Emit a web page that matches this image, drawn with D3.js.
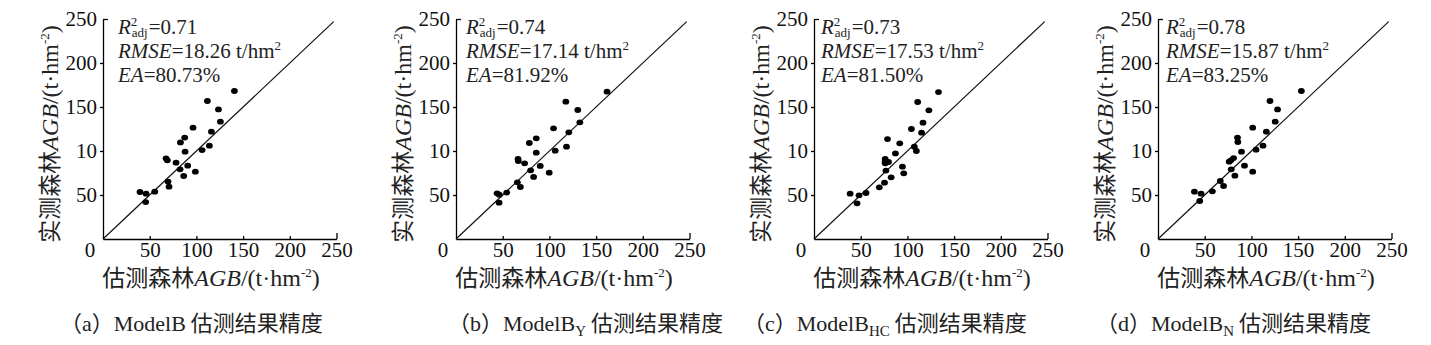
<!DOCTYPE html>
<html>
<head>
<meta charset="utf-8">
<script src="https://cdn.jsdelivr.net/npm/d3@7"></script>
<style>
  body { margin: 0; background: #fff; }
  svg { display: block; }
  .serif { font-family: "Liberation Serif", "DejaVu Serif", serif; }
  .cjk { font-family: "Noto Sans CJK SC", sans-serif; }
</style>
</head>
<body>
<div id="chart"></div>
<script>
// ---- data ----
const panelLetters = ["a", "b", "c", "d"];
const modelSubs = ["", "Y", "HC", "N"];
const r2Values = ["0.71", "0.74", "0.73", "0.78"];
const rmseValues = ["18.26", "17.14", "17.53", "15.87"];
const eaValues = ["80.73%", "81.92%", "81.50%", "83.25%"];

const xTicks = [50, 100, 150, 200, 250];
const yTicks = [50, 100, 150, 200, 250];
const yTickLabels = ["50", "10", "150", "200", "250"];   // the "10" is as printed
const lineRange = [0, 247];

// estimated (x) / observed (y) AGB for each model
const estA = [140.7, 111.8, 123.6, 125.7, 96.4, 116.1, 113.9, 87.5, 82.9, 87.9, 106.1, 67.5, 68.9, 78.2, 82.5, 90.7, 86.4, 98.9, 69.6, 70.7, 39.6, 46.1, 55.4, 45.7];
const obsA = [168.2, 156.8, 147.3, 133.3, 126.5, 122.0, 106.0, 115.2, 109.8, 99.2, 101.1, 91.7, 89.4, 86.7, 79.2, 83.3, 71.6, 76.5, 65.2, 59.5, 53.4, 51.5, 53.8, 42.0];

const estB = [161.7, 117.6, 130.4, 132.6, 104.4, 120.8, 118.3, 85.9, 78.5, 85.9, 106.2, 66.4, 66.7, 73.5, 79.9, 90.2, 83.1, 99.8, 65.7, 68.9, 44.0, 46.4, 54.3, 46.1];
const obsB = [167.4, 156.1, 146.6, 132.6, 125.8, 121.2, 104.9, 114.4, 109.1, 98.1, 100.4, 90.9, 88.6, 86.0, 78.0, 83.0, 70.5, 75.4, 64.4, 59.1, 51.9, 50.4, 52.7, 41.3];

const estC = [133.3, 111.0, 123.0, 116.7, 104.3, 115.2, 107.4, 109.6, 78.7, 91.8, 87.2, 76.2, 76.2, 79.8, 76.2, 77.0, 94.7, 96.1, 82.6, 75.5, 69.9, 38.7, 48.2, 55.7, 46.1];
const obsC = [167.0, 155.7, 146.2, 132.2, 125.0, 120.8, 104.9, 100.0, 113.6, 108.7, 97.3, 90.9, 88.3, 87.5, 86.0, 77.7, 82.2, 74.6, 70.1, 64.0, 58.7, 51.5, 49.6, 52.3, 40.5];

const estD = [153.5, 119.9, 128.0, 125.5, 101.4, 116.0, 112.4, 105.0, 85.1, 85.5, 89.4, 76.2, 78.0, 80.9, 78.4, 92.6, 82.3, 101.4, 66.7, 70.2, 39.0, 46.1, 58.2, 44.7];
const obsD = [168.2, 156.8, 147.3, 133.3, 126.5, 122.0, 106.0, 101.5, 115.2, 110.2, 99.2, 87.9, 89.4, 92.0, 79.2, 83.3, 72.0, 76.5, 65.9, 60.2, 53.8, 51.5, 54.2, 43.2];

const estAll = [estA, estB, estC, estD];
const obsAll = [obsA, obsB, obsC, obsD];

// ---- layout ----
const width = 1431, height = 345;
const axisX = [103, 456, 814, 1158];
const captionX = [60, 448, 743, 1096];
const annoDx = [15, 10, 7, 8];

const svg = d3.select("#chart").append("svg")
    .attr("width", width)
    .attr("height", height);

const x = d3.scaleLinear().domain([0, 250]).range([0, 233.5]);
const y = d3.scaleLinear().domain([0, 250]).range([239, 19]);

// width of an italic "R" at the annotation size, used to stack the 2 / adj
const probe = svg.append("text").attr("class", "serif").attr("font-size", 21)
    .attr("font-style", "italic").text("R");
const rWidth = probe.node().getComputedTextLength();
probe.remove();
const probe2 = svg.append("text").attr("class", "serif").attr("font-size", 13).text("adj");
const adjWidth = probe2.node().getComputedTextLength();
probe2.remove();

panelLetters.forEach((letter, i) => {
    const g = svg.append("g").attr("transform", "translate(" + axisX[i] + ",0)");

    // y axis
    const yAxis = g.append("g")
        .call(d3.axisLeft(y)
            .tickValues(yTicks)
            .tickSize(3)
            .tickSizeOuter(0)
            .tickPadding(3)
            .tickFormat((d, k) => yTickLabels[k]));
    yAxis.attr("font-family", null);
    yAxis.select(".domain").attr("stroke-width", 1.3);
    yAxis.selectAll(".tick line").attr("stroke-width", 1.3)
        .filter(d => d === 250).attr("x2", 5);
    yAxis.selectAll("text")
        .attr("class", "serif")
        .attr("font-size", 21)
        .attr("fill", "#111");

    // x axis
    const xAxis = g.append("g")
        .attr("transform", "translate(0," + y(0) + ")")
        .call(d3.axisBottom(x)
            .tickValues(xTicks)
            .tickSize(-3)
            .tickSizeOuter(0)
            .tickPadding(3));
    xAxis.attr("font-family", null);
    xAxis.select(".domain").attr("stroke-width", 1.3);
    xAxis.selectAll(".tick line").attr("stroke-width", 1.3)
        .filter(d => d === 250).attr("y2", -6);
    xAxis.selectAll("text")
        .attr("class", "serif")
        .attr("font-size", 21)
        .attr("fill", "#111");
    g.append("text")
        .attr("class", "serif")
        .attr("x", -13).attr("y", 257)
        .attr("text-anchor", "middle")
        .attr("font-size", 21)
        .attr("fill", "#111")
        .text("0");

    // 1:1 line
    g.append("line")
        .attr("x1", x(lineRange[0])).attr("y1", y(lineRange[0]))
        .attr("x2", x(lineRange[1])).attr("y2", y(lineRange[1]))
        .attr("stroke", "#111")
        .attr("stroke-width", 1.2);

    // points
    const pts = estAll[i].map((e, k) => [e, obsAll[i][k]]);
    g.append("g").selectAll("ellipse")
        .data(pts)
        .enter().append("ellipse")
        .attr("cx", d => x(d[0]))
        .attr("cy", d => y(d[1]))
        .attr("rx", 3.4)
        .attr("ry", 2.9)
        .attr("fill", "#000");

    // annotations
    const ax = annoDx[i];
    const t1 = g.append("text").attr("class", "serif").attr("font-size", 21).attr("fill", "#222")
        .attr("x", ax).attr("y", 34);
    t1.append("tspan").attr("font-style", "italic").text("R");
    t1.append("tspan").attr("font-size", 13).attr("dy", -8).text("2");
    t1.append("tspan").attr("font-size", 13).attr("x", ax + rWidth + 1).attr("dy", 11).text("adj");
    t1.append("tspan").attr("x", ax + rWidth + adjWidth + 2).attr("dy", -3).text("=" + r2Values[i]);

    const t2 = g.append("text").attr("class", "serif").attr("font-size", 21).attr("fill", "#222")
        .attr("x", ax).attr("y", 58);
    t2.append("tspan").attr("font-style", "italic").text("RMSE");
    t2.append("tspan").text("=" + rmseValues[i] + " t/hm");
    t2.append("tspan").attr("font-size", 13).attr("dy", -8).text("2");

    const t3 = g.append("text").attr("class", "serif").attr("font-size", 21).attr("fill", "#222")
        .attr("x", ax).attr("y", 82);
    t3.append("tspan").attr("font-style", "italic").text("EA");
    t3.append("tspan").text("=" + eaValues[i]);

    // x axis title
    const xt = g.append("text").attr("x", 108).attr("y", 286)
        .attr("text-anchor", "middle").attr("fill", "#222");
    xt.append("tspan").attr("class", "cjk").attr("font-size", 23).text("估测森林");
    xt.append("tspan").attr("class", "serif").attr("font-size", 24).attr("font-style", "italic").text("AGB");
    xt.append("tspan").attr("class", "serif").attr("font-size", 24).text("/(t·hm");
    xt.append("tspan").attr("class", "serif").attr("font-size", 13).attr("dy", -9).text("-2");
    xt.append("tspan").attr("class", "serif").attr("font-size", 24).attr("dy", 9).text(")");

    // y axis title
    const yt = g.append("text")
        .attr("transform", "translate(-45,134) rotate(-90)")
        .attr("text-anchor", "middle").attr("fill", "#222");
    yt.append("tspan").attr("class", "cjk").attr("font-size", 23).text("实测森林");
    yt.append("tspan").attr("class", "serif").attr("font-size", 24).attr("font-style", "italic").text("AGB");
    yt.append("tspan").attr("class", "serif").attr("font-size", 24).text("/(t·hm");
    yt.append("tspan").attr("class", "serif").attr("font-size", 13).attr("dy", -9).text("-2");
    yt.append("tspan").attr("class", "serif").attr("font-size", 24).attr("dy", 9).text(")");

    // caption
    const cap = svg.append("text").attr("x", captionX[i]).attr("y", 331).attr("fill", "#222");
    cap.append("tspan").attr("class", "cjk").attr("font-size", 22).text("（");
    cap.append("tspan").attr("class", "serif").attr("font-size", 22).text(letter);
    cap.append("tspan").attr("class", "cjk").attr("font-size", 22).text("）");
    cap.append("tspan").attr("class", "serif").attr("font-size", 22).text("ModelB");
    if (modelSubs[i]) {
        cap.append("tspan").attr("class", "serif").attr("font-size", 15).attr("dy", 5).text(modelSubs[i]);
        cap.append("tspan").attr("class", "cjk").attr("font-size", 22).attr("dy", -5).text(" 估测结果精度");
    } else {
        cap.append("tspan").attr("class", "cjk").attr("font-size", 22).text(" 估测结果精度");
    }
});
</script>
</body>
</html>
